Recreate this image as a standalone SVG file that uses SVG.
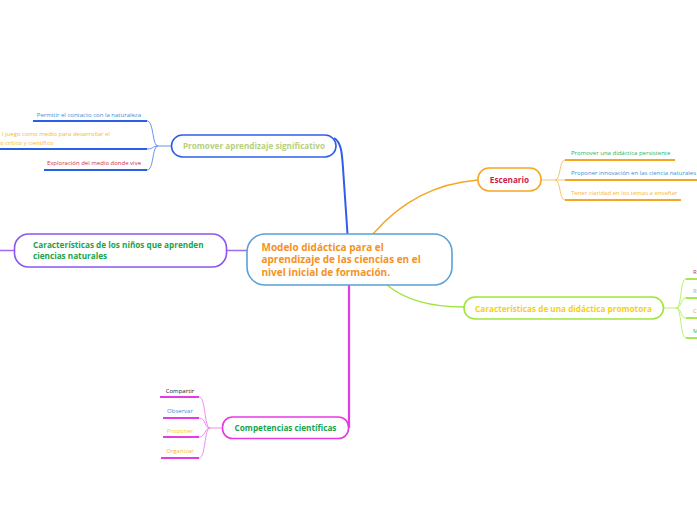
<svg xmlns="http://www.w3.org/2000/svg" width="697" height="520" viewBox="0 0 697 520">
<style>
text{font-family:"Open Sans","DejaVu Sans",sans-serif}
.main{font-size:10px;font-weight:bold;fill:#f5921e}
.topic{font-size:8.2px;font-weight:bold}
.sub{font-size:6px}
.box{fill:#fff;stroke-width:1.6}
.ul{fill:none;stroke-width:1.8}
.br{fill:none;stroke-width:1}
</style>
<rect width="697" height="520" fill="#fff"/>
<g id="connectors">
  <path d="M334,138 C341,142 342,152 343,168 L347.5,234" fill="none" stroke="#2f5fe8" stroke-width="2"/>
  <path d="M373,234 Q415,185 478,180" fill="none" stroke="#f5a623" stroke-width="1.3"/>
  <path d="M387,285 C405,300 430,307 464,307" fill="none" stroke="#9de63a" stroke-width="1.3"/>
  <path d="M247,250.5 L227,250.5" fill="none" stroke="#9b6cf2" stroke-width="1.5"/>
  <path d="M0,250.5 L14,250.5" fill="none" stroke="#9b6cf2" stroke-width="1.5"/>
  <path d="M349,285 L349,428" fill="none" stroke="#e53be5" stroke-width="2.2"/>
  <path class="br" stroke="#6a8ff0" d="M171,146 L158,146 M158,146 C152,146 154,121 147,121 M158,146 C152,146 154,149 147,149 M158,146 C152,146 154,170 147,170"/>
  <path class="br" stroke="#f7c56a" d="M541,180 L555,180 M555,180 C561,180 559,160 565,160 M555,180 L565,180 M555,180 C561,180 559,200 565,200"/>
  <path class="br" stroke="#b8f070" stroke-width="1.3" d="M663,308 L676,308 M676,308 C682,308 680,279 686,279 M676,308 C682,308 680,298 686,298 M676,308 C682,308 680,318 686,318 M676,308 C682,308 680,338 686,338"/>
  <path class="br" stroke="#f08af0" d="M222,428 L210,428 M210,428 C204,428 206,397 199,397 M210,428 C204,428 206,418 199,418 M210,428 C204,428 206,437 199,437 M210,428 C204,428 206,458 199,458"/>
</g>
<g id="central">
  <rect class="box" x="247" y="234" width="205" height="51" rx="18" stroke="#5aa0d8"/>
  <text class="main" x="261.5" y="250.5">Modelo didáctica para el</text>
  <text class="main" x="261.5" y="263">aprendizaje de las ciencias en el</text>
  <text class="main" x="261.5" y="275.5">nivel inicial de formación.</text>
</g>
<g id="promover">
  <rect class="box" x="171.5" y="135" width="164.5" height="22" rx="11" stroke="#2f5fe8"/>
  <text class="topic" x="254" y="149" text-anchor="middle" fill="#b8cf80">Promover aprendizaje significativo</text>
</g>
<g id="promover-1">
  <path class="ul" stroke="#2a5fe8" d="M33,121 L147,121"/>
  <text class="sub" x="141" y="116.5" text-anchor="end" fill="#3d8ed6">Permitir el contacto con la naturaleza</text>
</g>
<g id="promover-2">
  <path class="ul" stroke="#2a5fe8" d="M0,149 L147,149"/>
  <text class="sub" x="2" y="135.5" fill="#f6b732">l juego como medio para desarrollar el</text>
  <text class="sub" x="0" y="144.5" fill="#f6b732">o crítico y científico</text>
</g>
<g id="promover-3">
  <path class="ul" stroke="#2a5fe8" d="M44,170 L147,170"/>
  <text class="sub" x="141" y="164.5" text-anchor="end" fill="#d22b4f">Exploración del medio donde vive</text>
</g>
<g id="escenario">
  <rect class="box" x="478" y="168" width="63" height="23" rx="11" stroke="#f5a623"/>
  <text class="topic" x="509.5" y="182.5" text-anchor="middle" fill="#cc1f4a">Escenario</text>
</g>
<g id="escenario-1">
  <path class="ul" stroke="#f5a623" d="M565,160 L675,160"/>
  <text class="sub" x="571" y="155" fill="#28b463">Promover una didáctica persistente</text>
</g>
<g id="escenario-2">
  <path class="ul" stroke="#f5a623" d="M565,180 L697,180"/>
  <text class="sub" x="571" y="175" fill="#3d8ed6">Proponer innovación en las ciencia naturales</text>
</g>
<g id="escenario-3">
  <path class="ul" stroke="#f5a623" d="M565,200 L681,200"/>
  <text class="sub" x="571" y="195" fill="#f6b732">Tener claridad en los temas a enseñar</text>
</g>
<g id="promotora">
  <rect class="box" x="464" y="297" width="199.5" height="22" rx="11" stroke="#9de63a"/>
  <text class="topic" x="563.5" y="311.5" text-anchor="middle" fill="#f5d10f">Características de una didáctica promotora</text>
</g>
<g id="promotora-1">
  <path class="ul" stroke="#9de63a" d="M686,279 L697,279"/>
  <text class="sub" x="693" y="273.5" fill="#d22b4f">R</text>
</g>
<g id="promotora-2">
  <path class="ul" stroke="#9de63a" d="M686,298 L697,298"/>
  <text class="sub" x="693" y="293" fill="#aaaaaa">R</text>
</g>
<g id="promotora-3">
  <path class="ul" stroke="#9de63a" d="M686,318 L697,318"/>
  <text class="sub" x="693" y="313" fill="#f5a623">C</text>
</g>
<g id="promotora-4">
  <path class="ul" stroke="#9de63a" d="M686,338 L697,338"/>
  <text class="sub" x="693" y="333" fill="#28b463">M</text>
</g>
<g id="ninos">
  <rect class="box" x="14.5" y="234" width="212" height="33" rx="14" stroke="#8b55f0"/>
  <text class="topic" x="33" y="247.5" fill="#1aa34a">Características de los niños que aprenden</text>
  <text class="topic" x="33" y="259" fill="#1aa34a">ciencias naturales</text>
</g>
<g id="competencias">
  <rect class="box" x="222.5" y="417" width="126" height="21.5" rx="10" stroke="#e53be5"/>
  <text class="topic" x="285.5" y="431" text-anchor="middle" fill="#1aa34a">Competencias científicas</text>
</g>
<g id="competencias-1">
  <path class="ul" stroke="#e53be5" d="M160,397 L199,397"/>
  <text class="sub" x="180" y="392.5" text-anchor="middle" fill="#222">Compartir</text>
</g>
<g id="competencias-2">
  <path class="ul" stroke="#e53be5" d="M163,418 L199,418"/>
  <text class="sub" x="180" y="413" text-anchor="middle" fill="#3d8ed6">Observar</text>
</g>
<g id="competencias-3">
  <path class="ul" stroke="#e53be5" d="M163,437 L199,437"/>
  <text class="sub" x="180" y="433" text-anchor="middle" fill="#f5d10f">Proponer</text>
</g>
<g id="competencias-4">
  <path class="ul" stroke="#e53be5" d="M161,458 L199,458"/>
  <text class="sub" x="180" y="453" text-anchor="middle" fill="#f6b732">Organizar</text>
</g>
</svg>
